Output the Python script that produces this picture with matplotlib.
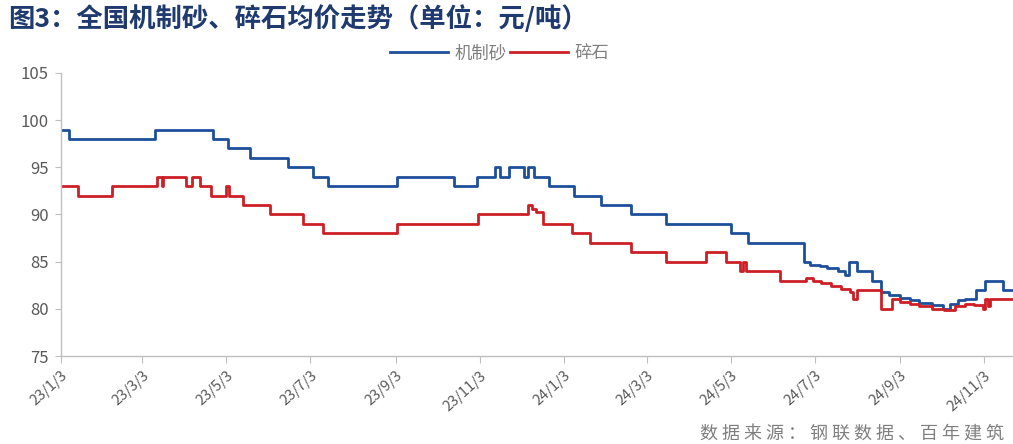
import matplotlib
matplotlib.use("Agg")
import matplotlib.pyplot as plt
import pandas as pd

plt.rcParams['font.family'] = ['Noto Sans CJK SC', 'DejaVu Sans']

# 机制砂 price change points (date, 元/吨)
sand_dates = [
    "2023-01-03", "2023-01-09", "2023-03-12", "2023-04-23", "2023-05-04",
    "2023-05-20", "2023-06-17", "2023-07-05", "2023-07-16", "2023-09-04",
    "2023-10-15", "2023-11-01", "2023-11-14", "2023-11-18", "2023-11-24",
    "2023-12-05", "2023-12-08", "2023-12-12", "2023-12-23", "2024-01-10",
    "2024-01-30", "2024-02-21", "2024-03-17", "2024-05-03", "2024-05-16",
    "2024-06-25", "2024-06-30", "2024-07-07", "2024-07-12", "2024-07-20",
    "2024-07-25", "2024-07-28", "2024-08-03", "2024-08-14", "2024-08-20",
    "2024-08-26", "2024-09-03", "2024-09-10", "2024-09-17", "2024-09-26",
    "2024-10-04", "2024-10-09", "2024-10-15", "2024-10-20", "2024-10-28",
    "2024-11-04", "2024-11-17", "2024-11-24",
]
sand_values = [
    99, 98, 99, 98, 97,
    96, 95, 94, 93, 94,
    93, 94, 95, 94, 95,
    94, 95, 94, 93, 92,
    91, 90, 89, 88, 87,
    85, 84.7, 84.5, 84.3, 84.0,
    83.6, 85, 84, 83, 81.8,
    81.5, 81.2, 80.9, 80.6, 80.4,
    80.0, 80.5, 80.9, 81.0, 82,
    83, 82, 82,
]

# 碎石 price change points (date, 元/吨)
stone_dates = [
    "2023-01-03", "2023-01-15", "2023-02-09", "2023-03-14", "2023-03-17",
    "2023-03-18", "2023-04-04", "2023-04-08", "2023-04-14", "2023-04-22",
    "2023-05-03", "2023-05-05", "2023-05-15", "2023-06-04", "2023-06-28",
    "2023-07-12", "2023-09-04", "2023-11-02", "2023-12-08", "2023-12-11",
    "2023-12-14", "2023-12-19", "2024-01-09", "2024-01-22", "2024-02-21",
    "2024-03-17", "2024-04-15", "2024-04-30", "2024-05-10", "2024-05-12",
    "2024-05-14", "2024-06-08", "2024-06-27", "2024-07-02", "2024-07-08",
    "2024-07-15", "2024-07-22", "2024-07-29", "2024-07-31", "2024-08-03",
    "2024-08-20", "2024-08-28", "2024-09-03", "2024-09-10", "2024-09-17",
    "2024-09-26", "2024-10-05", "2024-10-13", "2024-10-20", "2024-10-27",
    "2024-11-02", "2024-11-04", "2024-11-06", "2024-11-07", "2024-11-24",
]
stone_values = [
    93, 92, 93, 94, 93,
    94, 93, 94, 93, 92,
    93, 92, 91, 90, 89,
    88, 89, 90, 91, 90.6,
    90.3, 89, 88, 87, 86,
    85, 86, 85, 84, 85,
    84, 83, 83.3, 83.0, 82.7,
    82.4, 82.1, 81.8, 81, 82,
    80, 81, 80.7, 80.5, 80.3,
    80.0, 79.9, 80.3, 80.5, 80.4,
    80, 81, 80.3, 81, 81,
]

tick_dates = ["2023-01-03", "2023-03-03", "2023-05-03", "2023-07-03",
              "2023-09-03", "2023-11-03", "2024-01-03", "2024-03-03",
              "2024-05-03", "2024-07-03", "2024-09-03", "2024-11-03"]
tick_labels = ["23/1/3", "23/3/3", "23/5/3", "23/7/3", "23/9/3", "23/11/3",
               "24/1/3", "24/3/3", "24/5/3", "24/7/3", "24/9/3", "24/11/3"]
y_ticks = [75, 80, 85, 90, 95, 100, 105]

BLUE = "#1d4f9a"
RED = "#cc1f26"
GREY = "#595959"
AXIS = "#bfbfbf"

fig = plt.figure(figsize=(10.13, 4.44), dpi=100)
ax = fig.add_axes([0.0602, 0.198, 0.9398, 0.6378])

ax.plot(pd.to_datetime(sand_dates), sand_values, drawstyle="steps-post",
        color=BLUE, lw=2.0, label="机制砂")
ax.plot(pd.to_datetime(stone_dates), stone_values, drawstyle="steps-post",
        color=RED, lw=2.0, label="碎石")

ax.set_xlim(pd.Timestamp("2023-01-03"), pd.Timestamp("2024-11-24"))
ax.set_ylim(75, 105)
ax.set_yticks(y_ticks)
ax.set_xticks(pd.to_datetime(tick_dates))
ax.set_xticklabels(tick_labels, rotation=42, ha="right", rotation_mode="anchor")

for s in ("top", "right"):
    ax.spines[s].set_visible(False)
for s in ("left", "bottom"):
    ax.spines[s].set_color(AXIS)
    ax.spines[s].set_linewidth(1.0)
ax.tick_params(axis="x", direction="out", length=5, color=AXIS,
               labelsize=10.5, labelcolor=GREY, pad=4)
ax.tick_params(axis="y", direction="out", length=4, color=AXIS,
               labelsize=12, labelcolor=GREY, pad=5)

leg = ax.legend(loc="lower center", bbox_to_anchor=(0.461, 1.0), ncol=2,
                frameon=False, fontsize=12.5, handlelength=3.3,
                columnspacing=0.2, handletextpad=0.4, borderaxespad=0.2)
for t in leg.get_texts():
    t.set_color("#7f7f7f")

fig.text(0.008, 0.958, "图3：全国机制砂、碎石均价走势（单位：元/吨）",
         fontsize=19, fontweight="bold", color="#1f3a6e", va="center", ha="left")
fig.text(0.691, 0.0, "数 据 来 源 ： 钢 联 数 据 、 百 年 建 筑", fontsize=13,
         color="#7f7f7f", ha="left", va="bottom")

fig.savefig("out.png", dpi=100)
